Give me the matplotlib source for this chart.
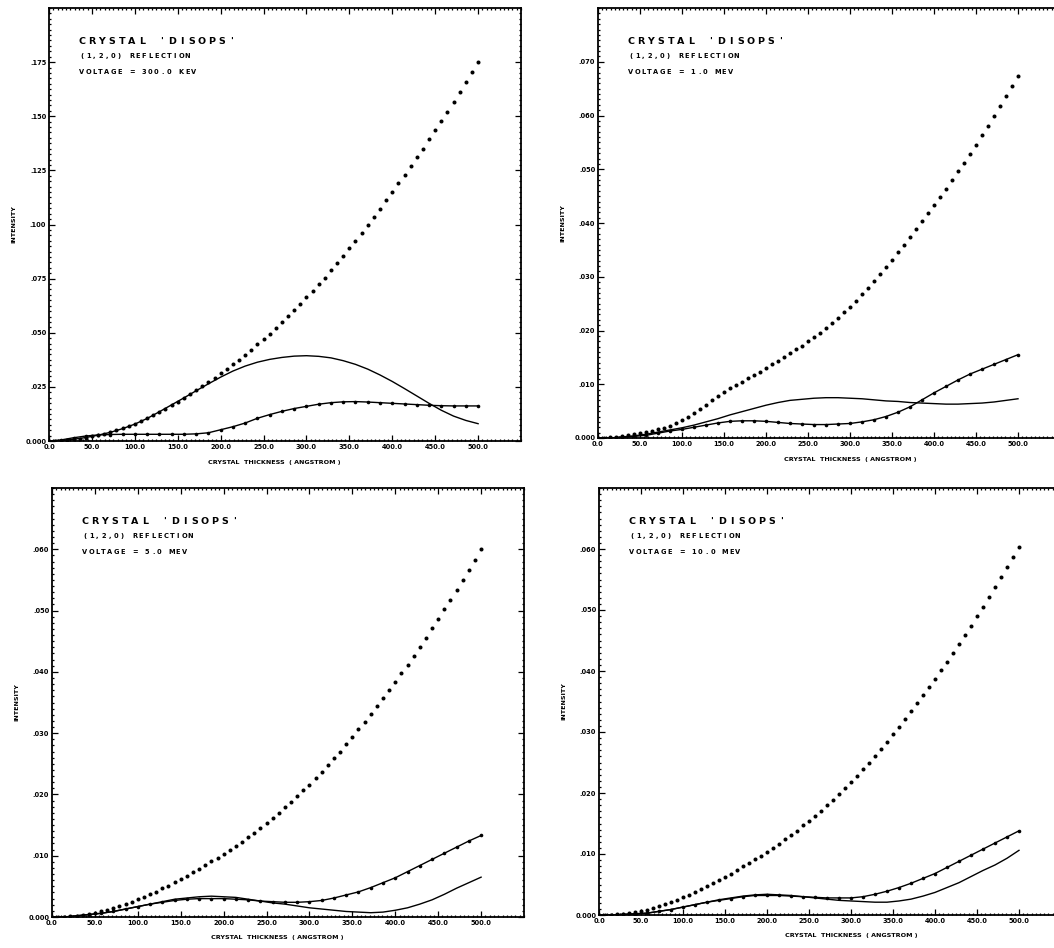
import numpy as np
import matplotlib
matplotlib.use("Agg")
import matplotlib.pyplot as plt
from matplotlib import transforms as mtransforms
from matplotlib.ticker import MultipleLocator

# crystal thickness (angstrom) at which the curves were sampled
thick_dots = np.linspace(0, 500, 71)
thick = np.linspace(0, 500, 36)

# ---- 300 keV ----
dots_300kev = [0.0000, 0.0000, 0.0001, 0.0004, 0.0007, 0.0011, 0.0015, 0.0021,
               0.0026, 0.0033, 0.0041, 0.0049, 0.0058, 0.0068, 0.0080,
               0.0092, 0.0105, 0.0119, 0.0134, 0.0149, 0.0165, 0.0182,
               0.0199, 0.0216, 0.0234, 0.0252, 0.0271, 0.0291, 0.0312,
               0.0333, 0.0354, 0.0376, 0.0399, 0.0422, 0.0446, 0.0471,
               0.0496, 0.0522, 0.0549, 0.0576, 0.0604, 0.0633, 0.0663,
               0.0692, 0.0723, 0.0755, 0.0788, 0.0821, 0.0855, 0.0890,
               0.0925, 0.0961, 0.0998, 0.1035, 0.1073, 0.1112, 0.1152,
               0.1190, 0.1229, 0.1269, 0.1310, 0.1351, 0.1393, 0.1436,
               0.1478, 0.1521, 0.1566, 0.1611, 0.1656, 0.1703, 0.1750]
line_300kev = [0.0000, 0.0002, 0.0008, 0.0016, 0.0027, 0.0040, 0.0057, 0.0078,
               0.0104, 0.0135, 0.0167, 0.0199, 0.0232, 0.0264, 0.0295, 0.0323,
               0.0346, 0.0364, 0.0377, 0.0386, 0.0392, 0.0394, 0.0391, 0.0384,
               0.0371, 0.0354, 0.0332, 0.0305, 0.0275, 0.0242, 0.0208, 0.0174,
               0.0142, 0.0115, 0.0095, 0.0080]
marked_300kev = [0.0000, 0.0005, 0.0015, 0.0023, 0.0028, 0.0030, 0.0031, 0.0031,
                 0.0031, 0.0031, 0.0031, 0.0031, 0.0033, 0.0038, 0.0052, 0.0066,
                 0.0083, 0.0105, 0.0122, 0.0137, 0.0150, 0.0160, 0.0170, 0.0177,
                 0.0181, 0.0182, 0.0180, 0.0177, 0.0174, 0.0171, 0.0168, 0.0165,
                 0.0163, 0.0162, 0.0162, 0.0162]

# ---- 1.0 MeV ----
dots_1mev = [0.0000, 0.0000, 0.0001, 0.0002, 0.0003, 0.0005, 0.0007, 0.0009,
             0.0011, 0.0013, 0.0016, 0.0019, 0.0023, 0.0028, 0.0033,
             0.0039, 0.0046, 0.0054, 0.0062, 0.0070, 0.0078, 0.0086,
             0.0093, 0.0099, 0.0105, 0.0111, 0.0117, 0.0123, 0.0130,
             0.0137, 0.0144, 0.0151, 0.0158, 0.0165, 0.0172, 0.0180,
             0.0188, 0.0196, 0.0204, 0.0214, 0.0224, 0.0234, 0.0244,
             0.0255, 0.0267, 0.0279, 0.0292, 0.0305, 0.0318, 0.0332,
             0.0346, 0.0360, 0.0374, 0.0388, 0.0403, 0.0418, 0.0433,
             0.0448, 0.0464, 0.0480, 0.0496, 0.0512, 0.0529, 0.0546,
             0.0563, 0.0581, 0.0599, 0.0617, 0.0636, 0.0655, 0.0674]
line_1mev = [0.0000, 0.0000, 0.0002, 0.0004, 0.0007, 0.0011, 0.0015, 0.0019,
             0.0024, 0.0030, 0.0036, 0.0043, 0.0049, 0.0055, 0.0061, 0.0066,
             0.0070, 0.0072, 0.0074, 0.0075, 0.0075, 0.0074, 0.0073, 0.0071,
             0.0069, 0.0068, 0.0066, 0.0065, 0.0064, 0.0063, 0.0063, 0.0064,
             0.0065, 0.0067, 0.0070, 0.0073]
marked_1mev = [0.0000, 0.0000, 0.0001, 0.0003, 0.0005, 0.0009, 0.0013, 0.0016,
               0.0020, 0.0024, 0.0028, 0.0031, 0.0032, 0.0032, 0.0031, 0.0029,
               0.0027, 0.0026, 0.0025, 0.0025, 0.0026, 0.0027, 0.0030, 0.0034,
               0.0040, 0.0048, 0.0058, 0.0071, 0.0084, 0.0096, 0.0108, 0.0119,
               0.0128, 0.0137, 0.0146, 0.0155]

# ---- 5.0 MeV ----
dots_5mev = [0.0000, 0.0000, 0.0000, 0.0001, 0.0002, 0.0003, 0.0005, 0.0007,
             0.0009, 0.0012, 0.0014, 0.0018, 0.0021, 0.0025, 0.0029,
             0.0033, 0.0037, 0.0041, 0.0047, 0.0051, 0.0057, 0.0062,
             0.0067, 0.0073, 0.0079, 0.0085, 0.0091, 0.0096, 0.0103,
             0.0109, 0.0116, 0.0123, 0.0130, 0.0137, 0.0146, 0.0153,
             0.0162, 0.0170, 0.0179, 0.0187, 0.0197, 0.0207, 0.0216,
             0.0226, 0.0237, 0.0248, 0.0259, 0.0270, 0.0282, 0.0294,
             0.0306, 0.0318, 0.0331, 0.0344, 0.0357, 0.0370, 0.0384,
             0.0398, 0.0412, 0.0426, 0.0441, 0.0456, 0.0471, 0.0486,
             0.0502, 0.0517, 0.0533, 0.0550, 0.0566, 0.0583, 0.0600]
line_5mev = [0.0000, 0.0000, 0.0002, 0.0004, 0.0006, 0.0009, 0.0013, 0.0017,
             0.0021, 0.0025, 0.0029, 0.0031, 0.0033, 0.0034, 0.0033, 0.0032,
             0.0029, 0.0026, 0.0023, 0.0021, 0.0018, 0.0015, 0.0013, 0.0011,
             0.0009, 0.0008, 0.0007, 0.0008, 0.0011, 0.0015, 0.0021, 0.0028,
             0.0037, 0.0047, 0.0056, 0.0065]
marked_5mev = [0.0000, 0.0000, 0.0002, 0.0004, 0.0006, 0.0009, 0.0013, 0.0017,
               0.0021, 0.0024, 0.0027, 0.0029, 0.0030, 0.0030, 0.0030, 0.0029,
               0.0028, 0.0026, 0.0025, 0.0024, 0.0024, 0.0025, 0.0027, 0.0031,
               0.0036, 0.0041, 0.0048, 0.0056, 0.0064, 0.0074, 0.0084, 0.0094,
               0.0104, 0.0114, 0.0124, 0.0133]

# ---- 10.0 MeV ----
dots_10mev = [0.0000, 0.0000, 0.0000, 0.0001, 0.0002, 0.0003, 0.0005, 0.0007,
              0.0009, 0.0012, 0.0015, 0.0018, 0.0021, 0.0025, 0.0029,
              0.0033, 0.0038, 0.0042, 0.0047, 0.0052, 0.0057, 0.0063,
              0.0068, 0.0074, 0.0080, 0.0086, 0.0092, 0.0097, 0.0104,
              0.0110, 0.0117, 0.0124, 0.0131, 0.0138, 0.0147, 0.0154,
              0.0163, 0.0171, 0.0180, 0.0188, 0.0198, 0.0208, 0.0218,
              0.0228, 0.0239, 0.0250, 0.0261, 0.0272, 0.0284, 0.0296,
              0.0308, 0.0321, 0.0334, 0.0347, 0.0360, 0.0373, 0.0387,
              0.0401, 0.0415, 0.0429, 0.0444, 0.0459, 0.0474, 0.0490,
              0.0505, 0.0521, 0.0537, 0.0554, 0.0570, 0.0587, 0.0604]
line_10mev = [0.0000, 0.0000, 0.0001, 0.0002, 0.0003, 0.0006, 0.0009, 0.0013,
              0.0017, 0.0021, 0.0025, 0.0028, 0.0031, 0.0033, 0.0034, 0.0033,
              0.0032, 0.0030, 0.0028, 0.0026, 0.0024, 0.0023, 0.0022, 0.0021,
              0.0021, 0.0023, 0.0026, 0.0031, 0.0037, 0.0045, 0.0053, 0.0063,
              0.0073, 0.0082, 0.0093, 0.0106]
marked_10mev = [0.0000, 0.0000, 0.0001, 0.0002, 0.0003, 0.0006, 0.0009, 0.0013,
                0.0017, 0.0021, 0.0024, 0.0027, 0.0030, 0.0032, 0.0032, 0.0032,
                0.0031, 0.0030, 0.0029, 0.0028, 0.0028, 0.0028, 0.0030, 0.0034,
                0.0039, 0.0045, 0.0052, 0.0060, 0.0068, 0.0078, 0.0088, 0.0098,
                0.0108, 0.0118, 0.0128, 0.0138]

# axis ticks
x_ticks = [0, 50, 100, 150, 200, 250, 300, 350, 400, 450, 500]
x_tick_labels = ["0.0", "50.0", "100.0", "150.0", "200.0", "250.0",
                 "300.0", "350.0", "400.0", "450.0", "500.0"]
y_ticks_300kev = [0.0, 0.025, 0.05, 0.075, 0.1, 0.125, 0.15, 0.175]
y_labels_300kev = ["0.000", ".025", ".050", ".075", ".100", ".125", ".150", ".175"]
y_ticks_1mev = [0.0, 0.01, 0.02, 0.03, 0.04, 0.05, 0.06, 0.07]
y_labels_1mev = ["0.000", ".010", ".020", ".030", ".040", ".050", ".060", ".070"]
y_ticks_high = [0.0, 0.01, 0.02, 0.03, 0.04, 0.05, 0.06]
y_labels_high = ["0.000", ".010", ".020", ".030", ".040", ".050", ".060"]

voltages = ["300.0 KEV", "1.0 MEV", "5.0 MEV", "10.0 MEV"]

W, H = 1054, 948
PT = 72.0 / 100  # points per pixel at dpi 100

fig = plt.figure(figsize=(W / 100, H / 100), dpi=100)

# (left, top, right, bottom) in pixels, y max, ticks, labels, x label centre
panels = [
    ((49, 8, 521, 441), 0.2, y_ticks_300kev, y_labels_300kev, 0.025, 262,
     dots_300kev, line_300kev, marked_300kev),
    ((598, 8, 1060, 438), 0.08, y_ticks_1mev, y_labels_1mev, 0.01, 300,
     dots_1mev, line_1mev, marked_1mev),
    ((52, 488, 524, 917), 0.07, y_ticks_high, y_labels_high, 0.01, 262,
     dots_5mev, line_5mev, marked_5mev),
    ((599, 488, 1061, 915), 0.07, y_ticks_high, y_labels_high, 0.01, 300,
     dots_10mev, line_10mev, marked_10mev),
]


def plotter_text(ax, dx, dy, s, pitch, size):
    # fixed-pitch lettering, offsets in pixels from the top-left corner
    for i, ch in enumerate(s):
        if ch == " ":
            continue
        tr = mtransforms.offset_copy(ax.transAxes, fig=fig,
                                     x=(dx + i * pitch) * PT, y=-dy * PT,
                                     units="points")
        ax.text(0, 1, ch, transform=tr, fontsize=size, fontweight="bold",
                ha="center", va="center", family="DejaVu Sans")


for (box, ymax, yt, yl, ystep, xlab_x, dots, line, marked), volt in zip(panels, voltages):
    l, t, r, b = box
    ax = fig.add_axes([l / W, 1 - b / H, (r - l) / W, (b - t) / H])

    ax.plot(thick_dots, dots, linestyle="none", marker="o", ms=2.9,
            color="black", mew=0)
    ax.plot(thick, line, color="black", lw=1.0)
    ax.plot(thick, marked, color="black", lw=1.0, marker="o", ms=2.6, mew=0)

    ax.set_xlim(0, 550)
    ax.set_ylim(0, ymax)
    ax.set_xticks(x_ticks, x_tick_labels)
    ax.set_yticks(yt, yl)
    ax.xaxis.set_minor_locator(MultipleLocator(5))
    ax.yaxis.set_minor_locator(MultipleLocator(ystep / 10))
    ax.tick_params(which="both", direction="in", top=True, right=True,
                   width=0.9, color="black")
    ax.tick_params(which="major", length=4, labelsize=4.8, pad=2)
    ax.tick_params(which="minor", length=1.6)
    for lab in ax.get_xticklabels() + ax.get_yticklabels():
        lab.set_fontweight("bold")
    for sp in ax.spines.values():
        sp.set_linewidth(1.3)

    plotter_text(ax, 33, 33, "CRYSTAL 'DISOPS'", 10, 6.8)
    plotter_text(ax, 33, 48, "(1,2,0) REFLECTION", 6.2, 4.8)
    plotter_text(ax, 33, 64, "VOLTAGE = " + volt, 6.2, 4.8)

    ylab_tr = mtransforms.offset_copy(ax.transAxes, fig=fig, x=-35 * PT, y=0,
                                      units="points")
    ax.text(0, 0.5, "INTENSITY", transform=ylab_tr, rotation=90, fontsize=4.6,
            fontweight="bold", ha="center", va="center")
    xlab_tr = mtransforms.offset_copy(
        mtransforms.blended_transform_factory(ax.transData, ax.transAxes),
        fig=fig, x=0, y=-21 * PT, units="points")
    ax.text(xlab_x, 0, "CRYSTAL  THICKNESS  ( ANGSTROM )", transform=xlab_tr,
            fontsize=4.6, fontweight="bold", ha="center", va="center")

fig.savefig("out.png", dpi=100, facecolor="white")
